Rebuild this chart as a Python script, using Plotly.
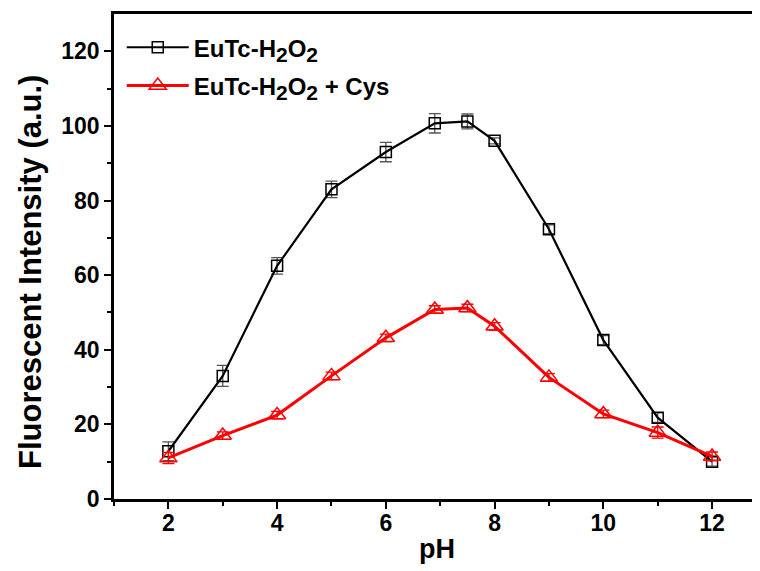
import plotly.graph_objects as go

ph = [2, 3, 4, 5, 6, 6.9, 7.5, 8, 9, 10, 11, 12]
eutc_h2o2 = [12.8, 33.0, 62.5, 83.0, 93.0, 100.7, 101.2, 96.0, 72.3, 42.6, 21.8, 10.0]
eutc_h2o2_err = [2.5, 2.8, 2.2, 2.2, 2.6, 2.6, 2.0, 0.8, 1.2, 1.2, 1.3, 1.2]
eutc_cys = [11.0, 17.0, 22.5, 33.0, 43.2, 50.8, 51.2, 46.3, 32.6, 22.8, 17.8, 11.4]
eutc_cys_err = [1.5, 1.0, 1.0, 1.0, 1.0, 1.0, 1.0, 1.0, 1.0, 1.0, 1.5, 1.2]

FONT = "Liberation Sans, Arial, sans-serif"

# page body has an 8px margin; figure sized so the plot lands where the reference has it
W, H = 752, 563
ML, MT, MB = 106, 6, 72
PX_PER_PH = 54.37
PLOT_H = H - MT - MB

SUB = '<sub><span style="font-size:21px">{}</span></sub>'
name1 = "EuTc-H" + SUB.format("2") + "O" + SUB.format("2")
name2 = name1 + " + Cys"

fig = go.Figure()
fig.add_trace(go.Scatter(
    x=ph, y=eutc_h2o2, mode="lines+markers",
    name=name1, legendgroup="a",
    line=dict(color="black", width=2.2),
    marker=dict(symbol="square-open", size=11, color="black", line=dict(width=1.5)),
    error_y=dict(type="data", array=eutc_h2o2_err, color="#555555", thickness=1.3, width=6),
))
fig.add_trace(go.Scatter(
    x=ph, y=eutc_cys, mode="lines+markers",
    name=name2, legendgroup="b",
    line=dict(color="#ff0000", width=3),
    marker=dict(symbol="triangle-up-open", size=15, color="#ff0000", line=dict(width=1.5)),
    error_y=dict(type="data", array=eutc_cys_err, color="#ff0000", thickness=1.3, width=6),
))

fig.update_layout(
    width=W, height=H,
    margin=dict(l=ML, r=0, t=MT, b=MB, autoexpand=False),
    plot_bgcolor="white", paper_bgcolor="white",
    font=dict(family=FONT, size=22, color="black"),
    showlegend=True,
    legend=dict(x=0.012, y=0.977, xanchor="left", yanchor="top",
                bgcolor="rgba(0,0,0,0)", font=dict(family=FONT, size=24, color="black", weight="bold"),
                itemwidth=62, tracegroupgap=4),
    annotations=[dict(
        text="Fluorescent Intensity (a.u.)", textangle=-90,
        xref="paper", yref="paper", x=0, y=(499 - 272) / PLOT_H,
        xanchor="center", yanchor="middle", xshift=-84, showarrow=False,
        font=dict(family=FONT, size=31, color="black", weight="bold"),
    )],
)
fig.update_xaxes(
    range=[1, 1 + (W - ML) / PX_PER_PH],
    tickvals=[2, 4, 6, 8, 10, 12],
    ticks="outside", ticklen=7, tickwidth=2, tickcolor="black",
    minor=dict(tickvals=[1, 3, 5, 7, 9, 11], ticks="outside", ticklen=4, tickwidth=2, tickcolor="black"),
    showline=True, linecolor="black", linewidth=2.5, mirror=True,
    showgrid=False, zeroline=False,
    ticklabelstandoff=-5,
    tickfont=dict(family=FONT, size=23, color="black", weight="bold"),
    title=dict(text="pH", font=dict(family=FONT, size=27, color="black", weight="bold"), standoff=4),
)
fig.update_yaxes(
    range=[0, 130],
    tickvals=[0, 20, 40, 60, 80, 100, 120],
    ticks="outside", ticklen=7, tickwidth=2, tickcolor="black",
    minor=dict(tickvals=[10, 30, 50, 70, 90, 110], ticks="outside", ticklen=4, tickwidth=2, tickcolor="black"),
    showline=True, linecolor="black", linewidth=2.5,
    showgrid=False, zeroline=False,
    tickfont=dict(family=FONT, size=23, color="black", weight="bold"),
)

fig.write_html("out.html")
